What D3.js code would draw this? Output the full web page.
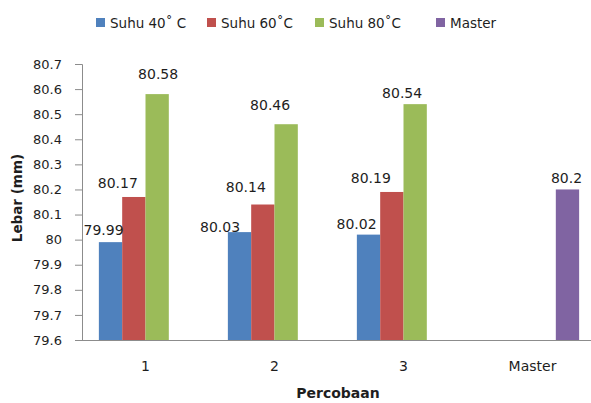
<!DOCTYPE html>
<html>
<head>
<meta charset="utf-8">
<script src="https://cdn.jsdelivr.net/npm/d3@7/dist/d3.min.js"></script>
<style>
  html, body { margin: 0; padding: 0; background: #fff; }
  svg { display: block; font-family: "DejaVu Sans", sans-serif; }
</style>
</head>
<body>
<svg id="chart" width="591" height="403"></svg>
<script>
// Lebar hasil percobaan pada tiga suhu, dibandingkan dengan master
const categories = ["1", "2", "3", "Master"];
const seriesNames = ["Suhu 40\u02DA C", "Suhu 60\u02DAC", "Suhu 80\u02DAC", "Master"];
const suhu40 = [79.99, 80.03, 80.02, null];
const suhu60 = [80.17, 80.14, 80.19, null];
const suhu80 = [80.58, 80.46, 80.54, null];
const master = [null, null, null, 80.2];
const yTicks = [79.6, 79.7, 79.8, 79.9, 80, 80.1, 80.2, 80.3, 80.4, 80.5, 80.6, 80.7];
const colors = ["#4F81BD", "#C0504D", "#9BBB59", "#8064A2"];

// small hand-placed nudges for the data labels [dx, dy], per series and category
const labelNudge = [
  [[-7, -1], [-19.5, 6], [-12, 0], [0, 0]],
  [[-16, -3], [-17, -7], [-21, -3], [0, 0]],
  [[1, -9], [-16, -8], [-13, 0], [0, 0]],
  [[0, 0], [0, 0], [0, 0], [-1, 0]]
];

const seriesValues = [suhu40, suhu60, suhu80, master];
const svg = d3.select("#chart");

const plotLeft = 81, plotRight = 597, plotTop = 64, plotBottom = 340;

const x0 = d3.scaleBand().domain(categories).range([plotLeft, plotRight]).padding(0);
const bw = x0.bandwidth();
const x1 = d3.scaleBand().domain(d3.range(seriesNames.length))
  .range([bw * 0.1385, bw * 0.8615]).padding(0);
const y = d3.scaleLinear().domain([79.6, 80.7]).range([plotBottom, plotTop]);

const axisColor = "#8c8c8c";
const textColor = "#1e1e1e";

// bars
seriesValues.forEach((vals, si) => {
  const g = svg.append("g");
  vals.forEach((v, ci) => {
    if (v == null) return;
    g.append("rect")
      .attr("x", x0(categories[ci]) + x1(si))
      .attr("y", y(v))
      .attr("width", x1.bandwidth())
      .attr("height", y(79.6) - y(v))
      .attr("fill", colors[si]);
  });
});

// y axis
const yAxis = d3.axisLeft(y).tickValues(yTicks).tickSize(7).tickPadding(13)
  .tickFormat(d => d3.format("")(+d.toFixed(1)));
const yg = svg.append("g").attr("transform", `translate(${plotLeft + 1},0)`).call(yAxis);
yg.select(".domain").attr("stroke", axisColor);
yg.selectAll(".tick line").attr("stroke", axisColor);
yg.selectAll(".tick text").attr("fill", textColor)
  .style("font-size", "13px").style("font-family", "DejaVu Sans, sans-serif");

// x axis
const xAxis = d3.axisBottom(x0).tickSize(0).tickPadding(21);
const xg = svg.append("g").attr("transform", `translate(0,${plotBottom})`).call(xAxis);
xg.select(".domain").attr("stroke", axisColor);
xg.selectAll(".tick text").attr("fill", textColor)
  .style("font-size", "14px").style("font-family", "DejaVu Sans, sans-serif");

// data labels
seriesValues.forEach((vals, si) => {
  vals.forEach((v, ci) => {
    if (v == null) return;
    const [dx, dy] = labelNudge[si][ci];
    svg.append("text")
      .attr("x", x0(categories[ci]) + x1(si) + x1.bandwidth() / 2 + dx)
      .attr("y", y(v) - 6 + dy)
      .attr("text-anchor", "middle")
      .attr("fill", textColor)
      .style("font-size", "14px")
      .text(String(v));
  });
});

// axis titles
svg.append("text")
  .attr("x", (plotLeft + plotRight) / 2 - 1)
  .attr("y", 398)
  .attr("text-anchor", "middle")
  .attr("fill", textColor)
  .style("font-size", "14px").style("font-weight", "bold")
  .text("Percobaan");

svg.append("text")
  .attr("transform", "translate(22,198) rotate(-90)")
  .attr("text-anchor", "middle")
  .attr("fill", textColor)
  .style("font-size", "13.5px").style("font-weight", "bold")
  .text("Lebar (mm)");

// legend
const legendX = [96, 207, 315, 436];
seriesNames.forEach((name, i) => {
  const g = svg.append("g").attr("transform", `translate(${legendX[i]},0)`);
  g.append("rect").attr("x", 0).attr("y", 18).attr("width", 9).attr("height", 9)
    .attr("fill", colors[i]);
  g.append("text").attr("x", 14).attr("y", 28)
    .attr("fill", textColor)
    .style("font-size", "13.5px")
    .text(name);
});
</script>
</body>
</html>
